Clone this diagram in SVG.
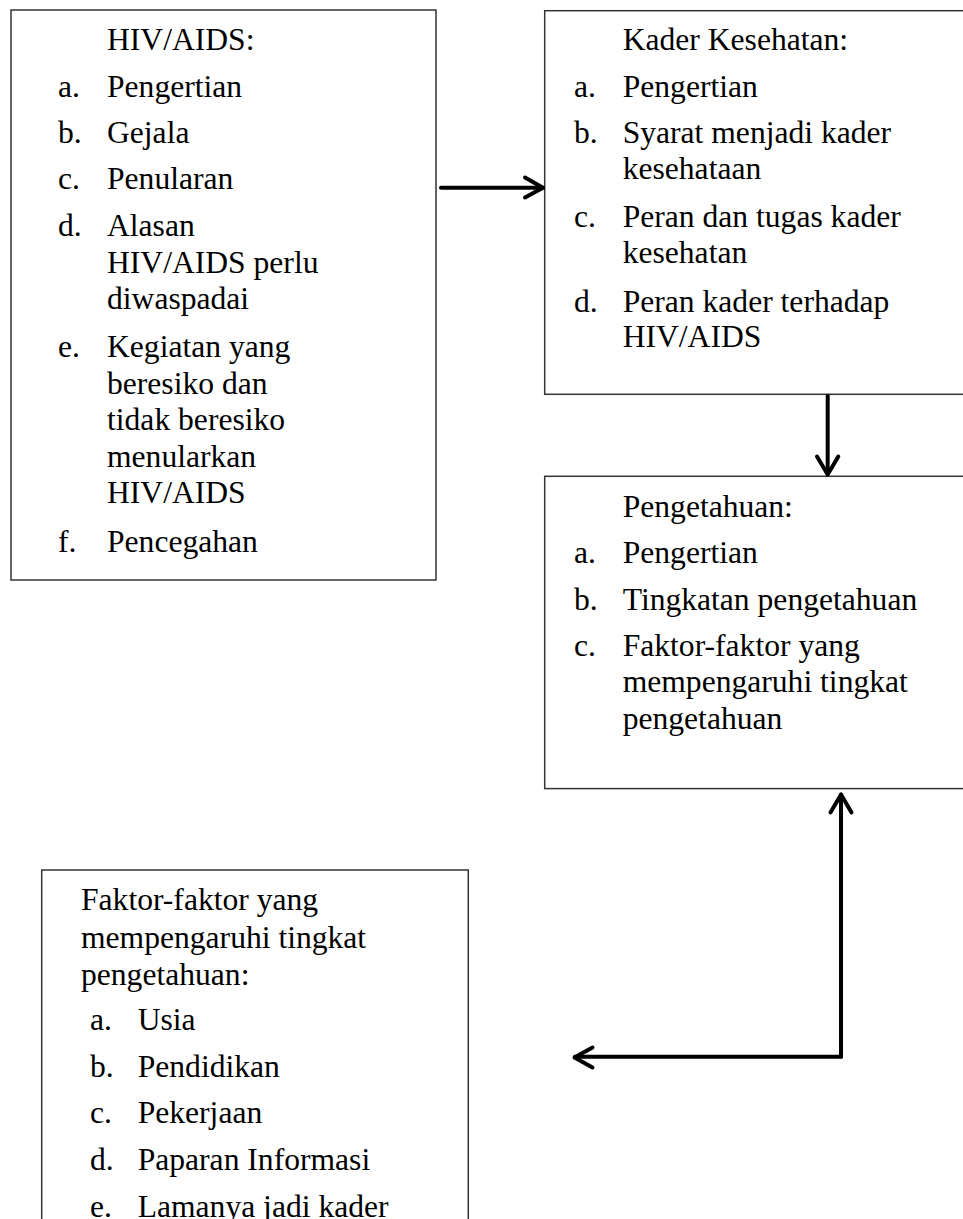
<svg xmlns="http://www.w3.org/2000/svg" width="963" height="1219" viewBox="0 0 963 1219">
<style>
.box{fill:#fff;stroke:#333;stroke-width:1.5}
text{font-family:"Liberation Serif","Times New Roman",serif;font-size:31.6px;fill:#000}
.c{fill:none;stroke:#000;stroke-width:4;stroke-linecap:round;stroke-linejoin:round}
</style>
<rect width="963" height="1219" fill="#fff"/>
<g id="hiv">
<rect class="box" x="11" y="10" width="425" height="570"/>
<text x="107" y="50">HIV/AIDS:</text>
<text x="58" y="96.7">a.</text><text x="107" y="96.7">Pengertian</text>
<text x="58" y="142.7">b.</text><text x="107" y="142.7">Gejala</text>
<text x="58" y="189.3">c.</text><text x="107" y="189.3">Penularan</text>
<text x="58" y="236">d.</text><text x="107" y="236">Alasan</text>
<text x="107" y="272.5">HIV/AIDS perlu</text>
<text x="107" y="309">diwaspadai</text>
<text x="58" y="357.3">e.</text><text x="107" y="357.3">Kegiatan yang</text>
<text x="107" y="393.8">beresiko dan</text>
<text x="107" y="430.3">tidak beresiko</text>
<text x="107" y="466.8">menularkan</text>
<text x="107" y="503.3">HIV/AIDS</text>
<text x="58" y="552.3">f.</text><text x="107" y="552.3">Pencegahan</text>
</g>
<g id="kader">
<rect class="box" x="544.7" y="10.7" width="430" height="383.6"/>
<text x="622.7" y="50">Kader Kesehatan:</text>
<text x="574" y="96.7">a.</text><text x="622.7" y="96.7">Pengertian</text>
<text x="574" y="143.3">b.</text><text x="622.7" y="143.3">Syarat menjadi kader</text>
<text x="622.7" y="178.8">kesehataan</text>
<text x="574" y="226.7">c.</text><text x="622.7" y="226.7">Peran dan tugas kader</text>
<text x="622.7" y="263.2">kesehatan</text>
<text x="574" y="311.7">d.</text><text x="622.7" y="311.7">Peran kader terhadap</text>
<text x="622.7" y="347.2">HIV/AIDS</text>
</g>
<g id="pengetahuan">
<rect class="box" x="544.7" y="476.3" width="430" height="312.3"/>
<text x="622.7" y="516.7">Pengetahuan:</text>
<text x="574" y="562.7">a.</text><text x="622.7" y="562.7">Pengertian</text>
<text x="574" y="609.5">b.</text><text x="622.7" y="609.5">Tingkatan pengetahuan</text>
<text x="574" y="655.5">c.</text><text x="622.7" y="655.5">Faktor-faktor yang</text>
<text x="622.7" y="692">mempengaruhi tingkat</text>
<text x="622.7" y="728.5">pengetahuan</text>
</g>
<g id="faktor">
<rect class="box" x="41.7" y="870" width="426.6" height="380"/>
<text x="81" y="910">Faktor-faktor yang</text>
<text x="81" y="947.5">mempengaruhi tingkat</text>
<text x="81" y="985">pengetahuan:</text>
<text x="90" y="1030">a.</text><text x="137.7" y="1030">Usia</text>
<text x="90" y="1076.7">b.</text><text x="137.7" y="1076.7">Pendidikan</text>
<text x="90" y="1123.4">c.</text><text x="137.7" y="1123.4">Pekerjaan</text>
<text x="90" y="1170">d.</text><text x="137.7" y="1170">Paparan Informasi</text>
<text x="90" y="1216.7">e.</text><text x="137.7" y="1216.7">Lamanya jadi kader</text>
</g>
<g id="connectors">
<path class="c" d="M441 187.7H543"/>
<path class="c" d="M525 177.5L543 187.7L525 197.5"/>
<path class="c" d="M827.7 396V474"/>
<path class="c" d="M817 456.5L827.7 474.5L838.3 456.5"/>
<path class="c" d="M841 1056.7V794.5"/>
<path class="c" d="M830.5 812.5L841 794.5L851.5 812.5"/>
<path class="c" d="M841 1056.7H575"/>
<path class="c" d="M592.5 1047.5L574.5 1057.5L592.5 1067.5"/>
</g>
</svg>
